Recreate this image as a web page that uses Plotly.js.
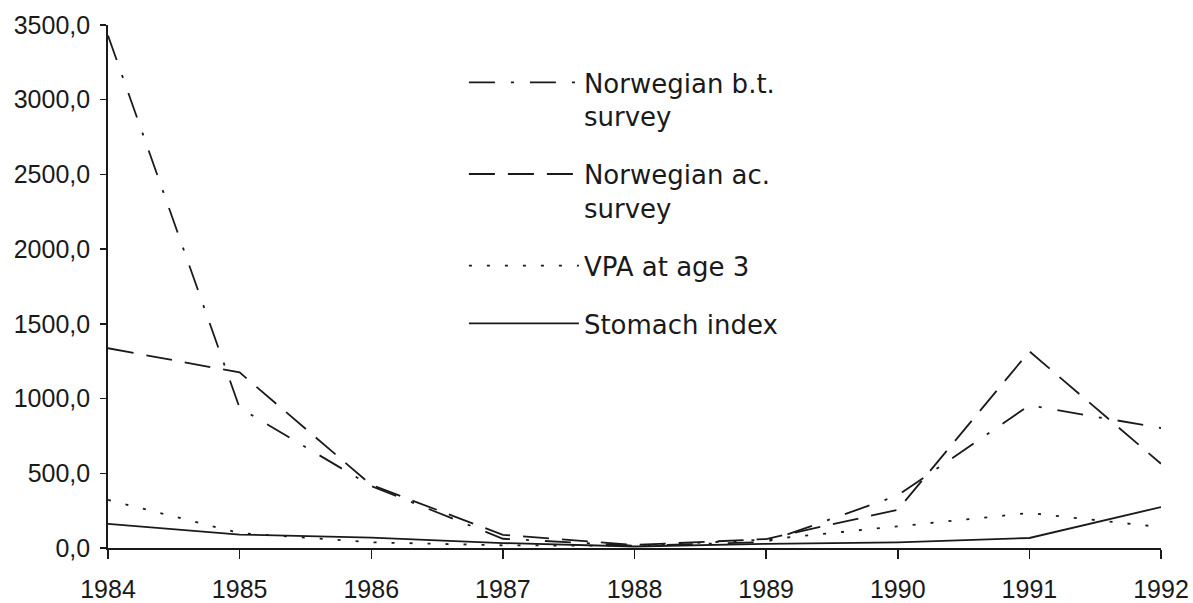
<!DOCTYPE html>
<html>
<head>
<meta charset="utf-8">
<script src="https://cdn.plot.ly/plotly-3.0.1.min.js"></script>
<style>
  html, body { margin: 0; padding: 0; background: #ffffff; }
  #chart { width: 1193px; height: 603px; }
</style>
</head>
<body>
<div id="chart"></div>
<script>
// ---- data ----
const years = [1984, 1985, 1986, 1987, 1988, 1989, 1990, 1991, 1992];
const yearLabels = ["1984", "1985", "1986", "1987", "1988", "1989", "1990", "1991", "1992"];
const norwegianBT = [3430, 937, 415, 62, 15, 40, 352, 955, 803];
const norwegianAC = [1337, 1175, 422, 88, 20, 60, 256, 1316, 564];
const vpaAge3 = [322, 100, 38, 18, 15, 56, 145, 234, 140];
const stomachIndex = [162, 90, 70, 33, 10, 28, 38, 67, 274];
const yTicks = [0, 500, 1000, 1500, 2000, 2500, 3000, 3500];
const seriesNames = ["Norwegian b.t.<br>survey", "Norwegian ac.<br>survey", "VPA at age 3", "Stomach index"];

const ink = "#1a1a1a";
const legendFont = "DejaVu Sans, Liberation Sans, sans-serif";
const tickFont = "Liberation Sans, Arimo, DejaVu Sans, sans-serif";

function lineTrace(y, name, dash, group) {
  return {
    x: years, y: y, name: name, type: "scatter", mode: "lines",
    legendgroup: group,
    line: { color: ink, width: 1.8, dash: dash },
    hoverinfo: "skip"
  };
}

const traces = [
  lineTrace(norwegianBT, seriesNames[0], "26px,16px,3px,16px", "g1"),
  lineTrace(norwegianAC, seriesNames[1], "26px,13px", "g2"),
  lineTrace(vpaAge3, seriesNames[2], "3px,15px", "g3"),
  lineTrace(stomachIndex, seriesNames[3], "solid", "g4")
];

const layout = {
  width: 1193, height: 603,
  margin: { l: 108, r: 32, t: 25, b: 55 },
  paper_bgcolor: "#ffffff", plot_bgcolor: "#ffffff",
  separators: ",.",
  font: { family: tickFont, color: ink, size: 25 },
  showlegend: true,
  legend: {
    x: 0.338, y: 0.935, xanchor: "left", yanchor: "top",
    bgcolor: "rgba(0,0,0,0)", borderwidth: 0,
    font: { family: legendFont, size: 26, color: ink },
    itemwidth: 110, valign: "top", tracegroupgap: 21,
    traceorder: "grouped"
  },
  xaxis: {
    range: [1984, 1992], tickmode: "array", tickvals: years, ticktext: yearLabels,
    showgrid: false, zeroline: false, showline: true, linecolor: ink, linewidth: 1.8,
    ticks: "outside", ticklen: 9, tickwidth: 1.5, tickcolor: ink,
    ticklabelstandoff: 9,
    tickfont: { family: tickFont, size: 25, color: ink }
  },
  xaxis2: {
    overlaying: "x", anchor: "y", side: "bottom",
    range: [1984, 1992], tickmode: "array", tickvals: years,
    showgrid: false, zeroline: false, showline: false, showticklabels: false,
    ticks: "inside", ticklen: 5, tickwidth: 1.5, tickcolor: ink
  },
  yaxis: {
    range: [0, 3500], tickmode: "array", tickvals: yTicks, tickformat: ".1f",
    showgrid: false, zeroline: false, showline: true, linecolor: ink, linewidth: 1.8,
    ticks: "outside", ticklen: 6, tickwidth: 1.5, tickcolor: ink,
    ticklabelstandoff: 5,
    tickfont: { family: tickFont, size: 25, color: ink }
  },
  yaxis2: {
    overlaying: "y", anchor: "x", side: "left",
    range: [0, 3500], tickmode: "array", tickvals: yTicks,
    showgrid: false, zeroline: false, showline: false, showticklabels: false,
    ticks: "inside", ticklen: 7, tickwidth: 1.5, tickcolor: ink
  }
};

Plotly.newPlot("chart", traces, layout, { displayModeBar: false, staticPlot: true });
</script>
</body>
</html>
